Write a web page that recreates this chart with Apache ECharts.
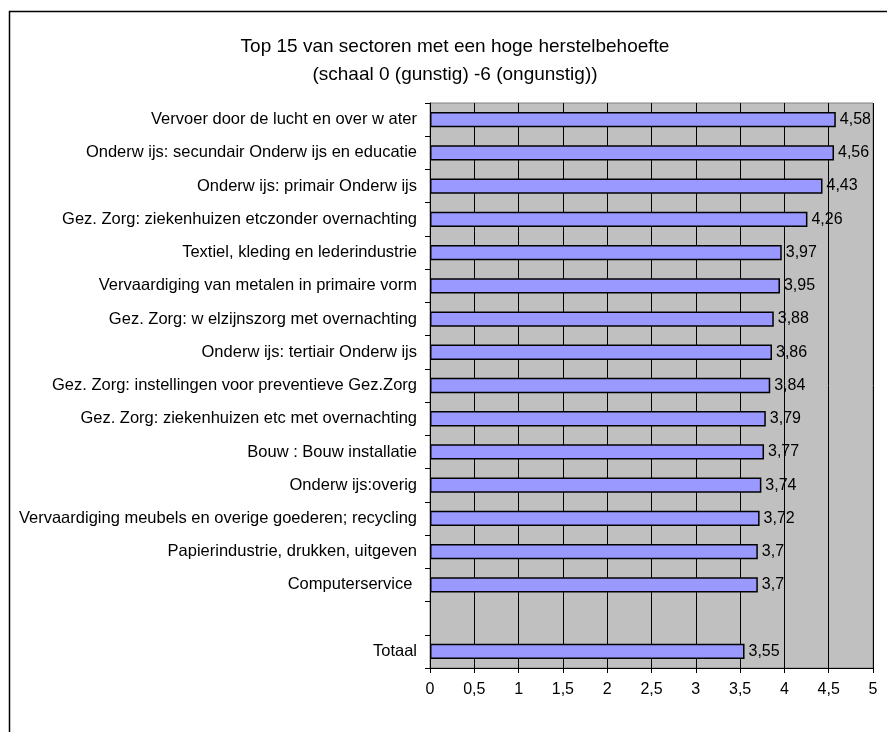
<!DOCTYPE html>
<html>
<head>
<meta charset="utf-8">
<script src="https://cdn.jsdelivr.net/npm/echarts@6/dist/echarts.min.js"></script>
<style>
html,body{margin:0;padding:0;background:#fff;}
#chart{width:887px;height:732px;}
</style>
</head>
<body>
<div id="chart"></div>
<script>
const titleLines = [
  'Top 15 van sectoren met een hoge herstelbehoefte',
  '(schaal 0 (gunstig) -6 (ongunstig))'
];
const categories = [
  'Vervoer door de lucht en over w ater',
  'Onderw ijs: secundair Onderw ijs en educatie',
  'Onderw ijs: primair Onderw ijs',
  'Gez. Zorg: ziekenhuizen etczonder overnachting',
  'Textiel, kleding en lederindustrie',
  'Vervaardiging van metalen in primaire vorm',
  'Gez. Zorg: w elzijnszorg met overnachting',
  'Onderw ijs: tertiair Onderw ijs',
  'Gez. Zorg: instellingen voor preventieve Gez.Zorg',
  'Gez. Zorg: ziekenhuizen etc met overnachting',
  'Bouw : Bouw installatie',
  'Onderw ijs:overig',
  'Vervaardiging meubels en overige goederen; recycling',
  'Papierindustrie, drukken, uitgeven',
  'Computerservice ',
  '',
  'Totaal'
];
const values = [4.58, 4.56, 4.43, 4.26, 3.97, 3.95, 3.88, 3.86, 3.84, 3.79, 3.77, 3.74, 3.72, 3.7, 3.7, null, 3.55];
const xMin = 0, xMax = 5, xStep = 0.5;

const fmt = v => String(v).replace('.', ',');
const chart = echarts.init(document.getElementById('chart'), null, {renderer: 'canvas'});
const FONT = '"Liberation Sans", Arial, sans-serif';
chart.setOption({
  animation: false,
  backgroundColor: '#fff',
  textStyle: {fontFamily: FONT},
  graphic: [
    {type: 'rect', shape: {x: 9.5, y: 11.5, width: 1000, height: 1000}, style: {fill: 'none', stroke: '#000', lineWidth: 1.5}, silent: true},
    {type: 'text', x: 455, y: 47, style: {text: titleLines[0], fontSize: 19, fontFamily: FONT, fill: '#000', align: 'center', verticalAlign: 'middle'}},
    {type: 'text', x: 455, y: 75, style: {text: titleLines[1], fontSize: 19, fontFamily: FONT, fill: '#000', align: 'center', verticalAlign: 'middle'}}
  ],
  grid: {left: 430, right: 14, top: 103, bottom: 64, show: true, backgroundColor: '#c0c0c0', borderColor: '#808080', borderWidth: 1, containLabel: false, outerBoundsMode: 'none'},
  xAxis: {
    type: 'value', min: xMin, max: xMax, interval: xStep,
    axisLine: {show: true, lineStyle: {color: '#000', width: 1}},
    axisTick: {show: true, length: 5, lineStyle: {color: '#000'}},
    axisLabel: {color: '#000', fontSize: 16, fontFamily: FONT, margin: 14, formatter: v => fmt(v)},
    splitLine: {show: true, lineStyle: {color: '#000', width: 1}}
  },
  yAxis: {
    type: 'category', inverse: true, data: categories,
    axisLine: {show: true, lineStyle: {color: '#000', width: 1}},
    axisTick: {show: true, length: 5, alignWithLabel: false, lineStyle: {color: '#000'}},
    axisLabel: {color: '#000', fontSize: 16.5, fontFamily: FONT, margin: 13},
    splitLine: {show: false}
  },
  series: [{
    type: 'bar',
    data: values,
    barCategoryGap: '54%',
    itemStyle: {color: '#9999ff', borderColor: '#000', borderWidth: 1.5},
    label: {show: true, position: 'right', distance: 4, color: '#000', fontSize: 16, fontFamily: FONT, formatter: p => fmt(p.value)}
  }]
});
</script>
</body>
</html>
